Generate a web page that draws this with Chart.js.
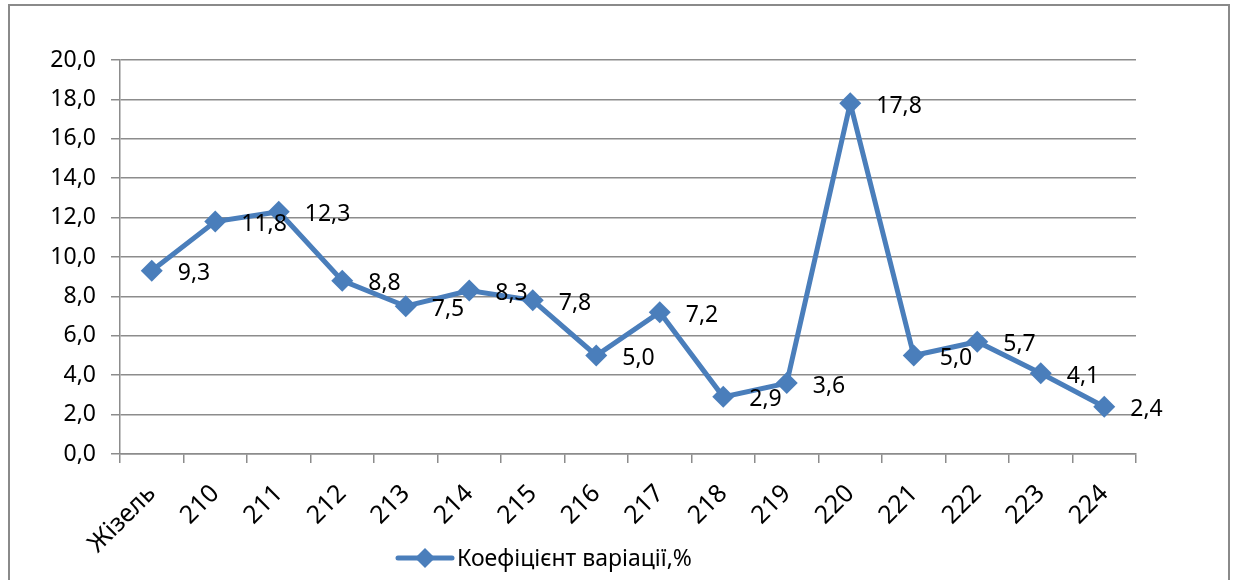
<!DOCTYPE html>
<html>
<head>
<meta charset="utf-8">
<script src="https://cdn.jsdelivr.net/npm/chart.js@4/dist/chart.umd.min.js"></script>
<style>
  html, body { margin: 0; padding: 0; background: #fff; overflow: hidden; }
  #wrap { position: relative; width: 1235px; height: 580px; }
  #frame {
    position: absolute; left: 8px; top: 4px; width: 1222px; height: 620px;
    border: 2px solid #8a8a8a; box-sizing: border-box; pointer-events: none;
  }
</style>
</head>
<body>
<div id="wrap">
  <canvas id="lineChart" width="1235" height="580"></canvas>
  <div id="frame"></div>
</div>
<script>
// Chart Data
const categories = ['Жізель', '210', '211', '212', '213', '214', '215', '216', '217', '218', '219', '220', '221', '222', '223', '224'];
const variation = [9.3, 11.8, 12.3, 8.8, 7.5, 8.3, 7.8, 5.0, 7.2, 2.9, 3.6, 17.8, 5.0, 5.7, 4.1, 2.4];
const seriesName = 'Коефіцієнт варіації,%';
const yTicks = [0, 2, 4, 6, 8, 10, 12, 14, 16, 18, 20];

const blue = '#4a7ebb';
const gridGray = '#8c8c8c';
const fontFamily = '"Noto Sans", "Open Sans", sans-serif';

function fmt(v) {
    return v.toFixed(1).replace('.', ',');
}

// value labels to the right of each point
const valueLabels = {
    id: 'valueLabels',
    afterDatasetsDraw(chart) {
        const ctx = chart.ctx;
        const meta = chart.getDatasetMeta(0);
        ctx.save();
        ctx.font = '23px ' + fontFamily;
        ctx.fillStyle = '#000';
        ctx.textAlign = 'left';
        ctx.textBaseline = 'middle';
        meta.data.forEach((pt, i) => {
            ctx.fillText(fmt(variation[i]), pt.x + 26, pt.y + 3);
        });
        ctx.restore();
    }
};

// legend in the style of the original (line with diamond)
const bottomLegend = {
    id: 'bottomLegend',
    afterDraw(chart) {
        const ctx = chart.ctx;
        const y = 558;
        const x0 = 398;
        ctx.save();
        ctx.strokeStyle = blue;
        ctx.lineWidth = 5;
        ctx.lineCap = 'round';
        ctx.beginPath();
        ctx.moveTo(x0, y);
        ctx.lineTo(x0 + 54, y);
        ctx.stroke();
        ctx.fillStyle = blue;
        ctx.beginPath();
        ctx.moveTo(x0 + 27, y - 10);
        ctx.lineTo(x0 + 37, y);
        ctx.lineTo(x0 + 27, y + 10);
        ctx.lineTo(x0 + 17, y);
        ctx.closePath();
        ctx.fill();
        ctx.font = '23px ' + fontFamily;
        ctx.fillStyle = '#000';
        ctx.textBaseline = 'middle';
        ctx.fillText(seriesName, x0 + 59, y + 1);
        ctx.restore();
    }
};

function initChart() {
    const ctx = document.getElementById('lineChart').getContext('2d');

    new Chart(ctx, {
        type: 'line',
        data: {
            labels: categories,
            datasets: [{
                label: seriesName,
                data: variation,
                borderColor: blue,
                backgroundColor: blue,
                borderWidth: 5,
                tension: 0,
                pointStyle: 'rectRot',
                pointRadius: 11,
                pointBorderWidth: 0,
                pointBackgroundColor: blue
            }]
        },
        options: {
            responsive: false,
            animation: false,
            layout: {
                padding: { left: 0, top: 60, right: 99, bottom: 0 }
            },
            plugins: {
                legend: { display: false },
                tooltip: { enabled: false }
            },
            scales: {
                y: {
                    min: 0,
                    max: 20,
                    afterBuildTicks(axis) {
                        axis.ticks = yTicks.map(v => ({ value: v }));
                    },
                    afterFit(axis) {
                        axis.width = 120;
                    },
                    ticks: {
                        color: '#000',
                        padding: 15,
                        font: { family: fontFamily, size: 23 },
                        callback: v => fmt(v)
                    },
                    grid: {
                        color: gridGray,
                        lineWidth: 1.5,
                        tickLength: 9
                    },
                    border: { color: gridGray, width: 1.5 }
                },
                x: {
                    offset: true,
                    afterFit(axis) {
                        axis.height = 126;
                    },
                    ticks: {
                        color: '#000',
                        minRotation: 45,
                        maxRotation: 45,
                        autoSkip: false,
                        padding: 16,
                        font: { family: fontFamily, size: 25 }
                    },
                    grid: {
                        offset: true,
                        drawOnChartArea: false,
                        color: gridGray,
                        lineWidth: 1.5,
                        tickLength: 9
                    },
                    border: { color: gridGray, width: 1.5 }
                }
            }
        },
        plugins: [valueLabels, bottomLegend]
    });
}

document.addEventListener('DOMContentLoaded', initChart);
</script>
</body>
</html>
